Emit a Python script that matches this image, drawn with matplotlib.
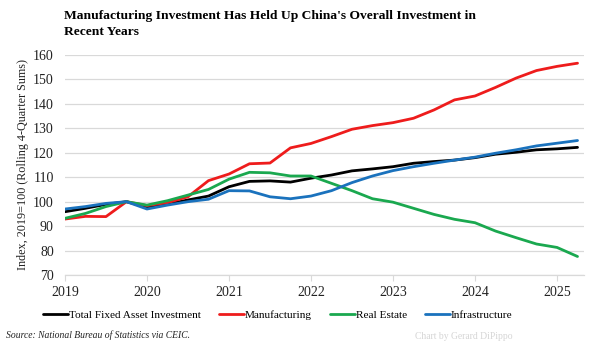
import matplotlib.pyplot as plt
import numpy as np

# quarterly index values, 2019Q1 .. 2025Q2 (2019 = 100, rolling 4-quarter sums)
quarters = [f"{y}Q{q}" for y in range(2019, 2026) for q in range(1, 5)][:26]

total = [95.9, 97.3, 98.9, 100.0, 97.7, 99.0, 100.7, 102.3, 106.1, 108.3, 108.5, 108.0,
         109.6, 110.9, 112.6, 113.4, 114.3, 115.7, 116.4, 117.0, 118.0, 119.4, 120.2,
         121.2, 121.6, 122.2]
manufacturing = [92.9, 94.0, 93.9, 100.0, 98.4, 99.6, 102.0, 108.6, 111.3, 115.5, 115.8,
                 122.0, 123.8, 126.6, 129.6, 131.1, 132.3, 134.1, 137.5, 141.6, 143.2,
                 146.7, 150.5, 153.6, 155.3, 156.6]
real_estate = [93.2, 95.2, 98.0, 100.0, 98.6, 100.4, 102.7, 105.0, 109.2, 112.0, 111.8,
               110.5, 110.5, 107.5, 104.5, 101.2, 99.8, 97.3, 94.8, 92.8, 91.4, 88.0,
               85.3, 82.7, 81.3, 77.6]
infrastructure = [97.0, 98.0, 99.3, 100.0, 97.0, 98.6, 100.0, 101.0, 104.5, 104.4, 102.0,
                  101.2, 102.3, 104.5, 107.8, 110.5, 112.7, 114.3, 115.7, 117.0, 118.2,
                  119.8, 121.2, 122.8, 123.9, 125.0]

series_names = ["Total Fixed Asset Investment", "Manufacturing", "Real Estate", "Infrastructure"]
series_colors = ["#000000", "#ee1c1c", "#1aa84f", "#1a72bd"]
year_ticks = [2019, 2020, 2021, 2022, 2023, 2024, 2025]

# quarter -> decimal year
x = np.array([int(q[:4]) + (int(q[-1]) - 1) / 4 for q in quarters])

plt.rcParams['font.family'] = ['Liberation Serif', 'DejaVu Serif']

fig = plt.figure(figsize=(5.96, 3.43), dpi=100)
ax = fig.add_axes([0.109, 0.198, 0.871, 0.642])

for vals, name, col in zip([total, manufacturing, real_estate, infrastructure],
                           series_names, series_colors):
    ax.plot(x, vals, color=col, lw=2.0, label=name, solid_capstyle='round')

ax.set_xlim(2019, 2025.33)
ax.set_ylim(70, 160)
ax.set_yticks(range(70, 161, 10))
ax.set_xticks(year_ticks)
ax.set_xticklabels([str(y) for y in year_ticks])
ax.grid(axis='y', color='#d9d9d9', lw=0.9)
ax.set_axisbelow(True)
for s in ['top', 'right', 'left']:
    ax.spines[s].set_visible(False)
ax.spines['bottom'].set_color('#d9d9d9')
ax.spines['bottom'].set_linewidth(0.9)
ax.tick_params(axis='y', length=0, labelsize=10, colors='#222222', pad=8)
ax.tick_params(axis='x', length=4, color='#d9d9d9', labelsize=10, labelcolor='#222222', pad=4)
ax.set_ylabel("Index, 2019=100 (Rolling 4-Quarter Sums)", fontsize=8.7, color='#222222', labelpad=3)

fig.text(0.107, 0.97, "Manufacturing Investment Has Held Up China's Overall Investment in\nRecent Years",
         fontsize=9.7, fontweight='bold', va='top', ha='left', linespacing=1.45)

ax.legend(loc='upper center', bbox_to_anchor=(0.41, -0.115), ncol=4, frameon=False,
          fontsize=8.1, handlelength=2.2, handletextpad=0.1, columnspacing=1.6)

fig.text(0.01, 0.008, "Source: National Bureau of Statistics via CEIC.", fontsize=6.9,
         style='italic', ha='left', va='bottom', color='#222222')
fig.text(0.86, 0.005, "Chart by Gerard DiPippo", fontsize=6.9, ha='right', va='bottom',
         color='#d5d5d5')

fig.savefig("out.png", dpi=100)
